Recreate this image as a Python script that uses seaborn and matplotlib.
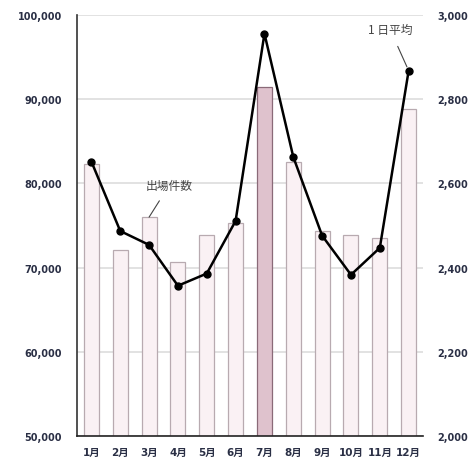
import matplotlib
matplotlib.use("Agg")
import matplotlib.pyplot as plt
import seaborn as sns
import numpy as np
import pandas as pd

# Données
mois = ["1月", "2月", "3月", "4月", "5月", "6月", "7月", "8月", "9月", "10月", "11月", "12月"]
shutsujo = [82300, 72100, 76000, 70700, 73900, 75300, 91500, 82600, 74300, 73900, 73500, 88900]
heikin = [2652, 2487, 2454, 2357, 2386, 2511, 2956, 2663, 2476, 2383, 2447, 2868]

sns.set_style("white")
plt.rcParams['font.family'] = ['DejaVu Sans', 'Noto Sans CJK JP']

df = pd.DataFrame({"mois": mois, "shutsujo": shutsujo, "heikin": heikin})

couleurs = {m: ("#e4bdcc" if m == "7月" else "#fbf0f4") for m in mois}
bords = ["#8a6a78" if m == "7月" else "#b8aab0" for m in mois]

fig = plt.figure(figsize=(4.68, 4.6), dpi=100)
ax = fig.add_axes([0.1645, 0.05, 0.7395, 0.915])

sns.barplot(data=df, x="mois", y="shutsujo", hue="mois", palette=couleurs,
            legend=False, width=0.52, ax=ax, zorder=2)
for p, e in zip(ax.patches, bords):
    p.set_edgecolor(e)
    p.set_linewidth(0.9)

ax.set_ylim(50000, 100000)
ax.set_yticks(range(50000, 100001, 10000))
ax.set_yticklabels([f"{v:,}" for v in range(50000, 100001, 10000)])
ax.set_xlim(-0.5, 11.5)
ax.yaxis.grid(True, color="#dddddd", linewidth=1.2, zorder=0)
ax.set_axisbelow(True)
ax.set_xlabel("")
ax.set_ylabel("")
for s in ["top", "right"]:
    ax.spines[s].set_visible(False)
ax.spines["left"].set_color("#333333")
ax.spines["bottom"].set_color("#222222")
ax.spines["left"].set_linewidth(1.2)
ax.spines["bottom"].set_linewidth(1.2)
ax.tick_params(axis="y", length=0, pad=11, labelsize=7, labelcolor="#2a2f45")
ax.tick_params(axis="x", length=0, pad=8, labelsize=7.5, labelcolor="#2a2f45")
for t in ax.get_yticklabels() + ax.get_xticklabels():
    t.set_fontweight("bold")

ax2 = ax.twinx()
ax2.plot(np.arange(len(mois)), df["heikin"], color="black", linewidth=1.8,
         marker="o", markersize=5, zorder=5)
ax2.set_ylim(2000, 3000)
ax2.set_yticks(range(2000, 3001, 200))
ax2.set_yticklabels([f"{v:,}" for v in range(2000, 3001, 200)])
for s in ["top", "right", "left", "bottom"]:
    ax2.spines[s].set_visible(False)
ax2.tick_params(axis="y", length=0, pad=10, labelsize=7, labelcolor="#2a2f45")
for t in ax2.get_yticklabels():
    t.set_fontweight("bold")

# Étiquettes des séries
ax.annotate("出場件数", xy=(2, shutsujo[2]), xytext=(2.7, 79800),
            fontsize=8.5, color="#444444", ha="center", va="center",
            family=['Noto Sans CJK JP', 'DejaVu Sans'],
            arrowprops=dict(arrowstyle="-", color="#444444", lw=0.8,
                            shrinkA=5, shrinkB=0))
ax2.annotate("1 日平均", xy=(11, heikin[11]), xytext=(10.35, 2967),
             fontsize=8.5, color="#444444", ha="center", va="center",
             family=['Noto Sans CJK JP', 'DejaVu Sans'],
             arrowprops=dict(arrowstyle="-", color="#444444", lw=0.8,
                             shrinkA=6, shrinkB=3))

plt.savefig("out.png", dpi=100)
